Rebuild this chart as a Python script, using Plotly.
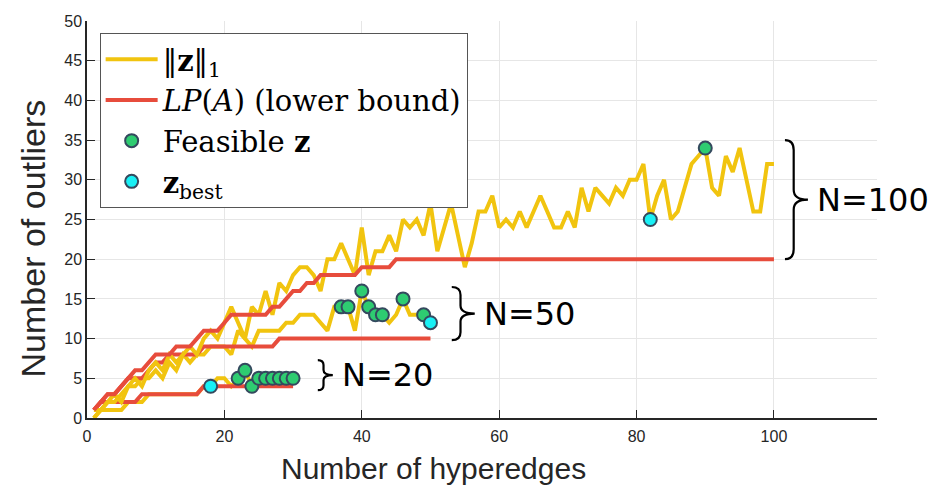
import plotly.graph_objects as go

# ---------------- data ----------------
hyperedges_20 = list(range(1, 31))
l1_20 = [0, 1, 1, 1, 1, 2, 2, 2, 3, 3, 3, 3, 3, 3, 3, 3, 4, 4, 5, 5,
         4, 5, 6, 4, 5, 5, 5, 5, 5, 5]
lp_20 = [1, 2, 2, 2, 2, 2, 2, 3, 3, 3, 3, 3, 3, 3, 3, 3, 4, 4, 4, 4,
         4, 4, 4, 4, 4, 4, 4, 4, 4, 4]
feasible_20_x = [22, 23, 24, 25, 26, 27, 28, 29, 30]
feasible_20_y = [5, 6, 4, 5, 5, 5, 5, 5, 5]
best_20_x = [18]
best_20_y = [4]

hyperedges_50 = list(range(1, 51))
l1_50 = [0, 1, 2, 2, 3, 4, 4, 5, 5, 6, 5, 7, 6, 8, 7, 8, 8, 9, 9, 9,
         8, 11, 10, 9, 11, 11, 11, 11, 12, 12, 13, 13, 13, 12, 11, 14, 14, 14, 11, 16,
         14, 13, 13, 12, 13, 15, 13, 13, 13, 12]
lp_50 = [1, 2, 3, 3, 4, 5, 5, 5, 6, 7, 7, 8, 8, 8, 8, 8, 9, 9, 9, 9,
         9, 9, 9, 9, 9, 9, 9, 10, 10, 10, 10, 10, 10, 10, 10, 10, 10, 10, 10, 10,
         10, 10, 10, 10, 10, 10, 10, 10, 10, 10]
feasible_50_x = [37, 38, 40, 41, 42, 43, 46, 49]
feasible_50_y = [14, 14, 16, 14, 13, 13, 15, 13]
best_50_x = [50]
best_50_y = [12]

hyperedges_100 = list(range(1, 101))
l1_100 = [1, 1, 2, 3, 2, 4, 5, 4, 6, 7, 6, 8, 7, 8, 9, 8, 10, 11, 10, 12,
          14, 12, 10, 14, 13, 16, 13, 17, 16, 18, 19, 19, 18, 16, 20, 20, 22, 20, 18, 24,
          18, 21, 21, 23, 21, 25, 24, 25, 23, 27, 21, 24, 27, 23, 19, 22, 26, 26, 28, 24,
          25, 24, 26, 24, 26, 28, 26, 24, 24, 26, 24, 29, 26, 29, 28, 27, 29, 28, 30, 30,
          32, 25, 28, 30, 25, 26, 29, 32, 33, 34, 29, 28, 33, 31, 34, 30, 26, 26, 32, 32]
lp_100 = [1, 2, 3, 3, 4, 5, 6, 6, 7, 8, 8, 8, 9, 9, 9, 10, 11, 11, 11, 12,
          13, 13, 13, 13, 13, 13, 14, 14, 15, 16, 16, 17, 17, 18, 18, 18, 18, 18, 18, 19,
          19, 19, 19, 19, 20, 20, 20, 20, 20, 20, 20, 20, 20, 20, 20, 20, 20, 20, 20, 20,
          20, 20, 20, 20, 20, 20, 20, 20, 20, 20, 20, 20, 20, 20, 20, 20, 20, 20, 20, 20,
          20, 20, 20, 20, 20, 20, 20, 20, 20, 20, 20, 20, 20, 20, 20, 20, 20, 20, 20, 20]
feasible_100_x = [90]
feasible_100_y = [34]
best_100_x = [82]
best_100_y = [25]

group_labels = ["N=20", "N=50", "N=100"]
x_ticks = [0, 20, 40, 60, 80, 100]
y_ticks = [0, 5, 10, 15, 20, 25, 30, 35, 40, 45, 50]

# ---------------- styles ----------------
YELLOW = "#F1C40F"
RED = "#E74C3C"
GREEN = "#2ECC71"
CYAN = "#19F0F5"
EDGE = "#34495E"
LW = 4
MS = 13

W, H = 934, 487
ML, MR, MT, MB = 87, 57, 21, 69
X_RANGE = [0, 115]
Y_RANGE = [0, 50]
ux = (X_RANGE[1] - X_RANGE[0]) / (W - ML - MR)
uy = (Y_RANGE[1] - Y_RANGE[0]) / (H - MT - MB)

fig = go.Figure()

groups = [
    (hyperedges_20, l1_20, lp_20, feasible_20_x, feasible_20_y, best_20_x, best_20_y),
    (hyperedges_50, l1_50, lp_50, feasible_50_x, feasible_50_y, best_50_x, best_50_y),
    (hyperedges_100, l1_100, lp_100, feasible_100_x, feasible_100_y, best_100_x, best_100_y),
]

for i, (xs, l1, lp, fx, fy, bx, by) in enumerate(groups):
    first = i == 0
    fig.add_trace(go.Scatter(x=xs, y=l1, mode="lines", line=dict(color=YELLOW, width=LW),
                             name="‖<b>z</b>‖<sub>1</sub>", legendgroup="l1",
                             showlegend=first, legendrank=1))
    fig.add_trace(go.Scatter(x=xs, y=lp, mode="lines", line=dict(color=RED, width=LW),
                             name="<i>LP</i>(<i>A</i>) (lower bound)", legendgroup="lp",
                             showlegend=first, legendrank=2))

for i, (xs, l1, lp, fx, fy, bx, by) in enumerate(groups):
    first = i == 0
    fig.add_trace(go.Scatter(x=fx, y=fy, mode="markers",
                             marker=dict(color=GREEN, size=MS, line=dict(color=EDGE, width=2)),
                             name="Feasible <b>z</b>", legendgroup="feas",
                             showlegend=first, legendrank=3))
    fig.add_trace(go.Scatter(x=bx, y=by, mode="markers",
                             marker=dict(color=CYAN, size=MS, line=dict(color=EDGE, width=2)),
                             name="<b>z</b><sub>best</sub>", legendgroup="best",
                             showlegend=first, legendrank=4))

# ---------------- braces ----------------
# (left x, y low, y high, width px, curl px)
brace_geom = [
    (33.6, 3.5, 7.3, 15, 5),
    (53.1, 9.8, 16.5, 23, 8),
    (101.6, 20.0, 35.0, 23, 10),
]


def brace_path(x0, y_lo, y_hi, w_px, r_px):
    w = w_px * ux
    r = r_px * uy
    xm = x0 + w * 0.38
    xt = x0 + w
    ym = (y_lo + y_hi) / 2
    return (f"M{x0},{y_hi} Q{xm},{y_hi} {xm},{y_hi - r} L{xm},{ym + r} "
            f"Q{xm},{ym} {xt},{ym} Q{xm},{ym} {xm},{ym - r} L{xm},{y_lo + r} "
            f"Q{xm},{y_lo} {x0},{y_lo}")


for (x0, ylo, yhi, wpx, rpx), lab in zip(brace_geom, group_labels):
    fig.add_shape(type="path", xref="x", yref="y", path=brace_path(x0, ylo, yhi, wpx, rpx),
                  line=dict(color="black", width=2.2), layer="above")
    fig.add_annotation(x=x0 + wpx * ux, y=(ylo + yhi) / 2, xref="x", yref="y",
                       text=lab, showarrow=False, xanchor="left", yanchor="middle",
                       xshift=7, font=dict(family="DejaVu Sans", size=32, color="black"))

# axis titles (placed as in the original, slightly off the axis centres)
fig.add_annotation(x=-0.068, y=0.453, xref="paper", yref="paper", text="Number of outliers",
                   showarrow=False, textangle=-90, xanchor="center", yanchor="middle",
                   font=dict(family="Liberation Sans", size=34, color="#262626"))
fig.add_annotation(x=0.438, y=-0.128, xref="paper", yref="paper", text="Number of hyperedges",
                   showarrow=False, xanchor="center", yanchor="middle",
                   font=dict(family="Liberation Sans", size=30, color="#262626"))

tick_font = dict(family="Liberation Sans", size=16, color="#262626")

fig.update_layout(
    width=W, height=H,
    margin=dict(l=ML, r=MR, t=MT, b=MB),
    paper_bgcolor="white", plot_bgcolor="white",
    showlegend=True,
    legend=dict(x=0.016, y=0.97, xanchor="left", yanchor="top",
                bgcolor="white", bordercolor="#555555", borderwidth=1,
                font=dict(family="DejaVu Serif", size=29, color="black"),
                tracegroupgap=0, itemwidth=52),
    xaxis=dict(range=X_RANGE, tickvals=x_ticks, ticks="inside", ticklen=8,
               tickcolor="#262626", showline=True, linecolor="#262626", linewidth=1.5,
               showgrid=True, gridcolor="#E6E6E6", gridwidth=1, zeroline=False,
               tickfont=tick_font, ticklabelstandoff=3),
    yaxis=dict(range=Y_RANGE, tickvals=y_ticks, ticks="inside", ticklen=8,
               tickcolor="#262626", showline=True, linecolor="#262626", linewidth=1.5,
               showgrid=True, gridcolor="#E6E6E6", gridwidth=1, zeroline=False,
               tickfont=tick_font),
)

fig.write_html("out.html")
